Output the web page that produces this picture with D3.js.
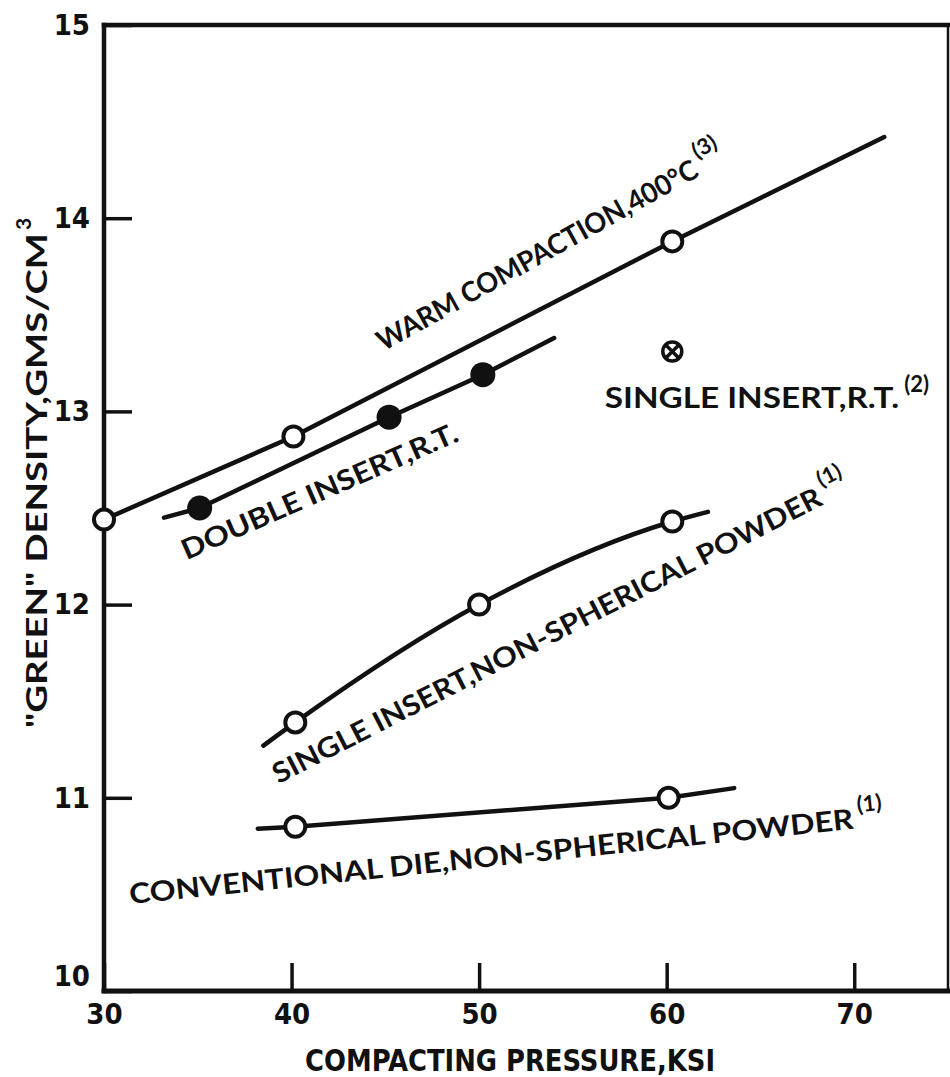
<!DOCTYPE html>
<html>
<head>
<meta charset="utf-8">
<script src="https://cdn.jsdelivr.net/npm/d3@7"></script>
<style>
  body { margin: 0; background: #fff; }
  .tick text { font-family: "DejaVu Sans Condensed", "DejaVu Sans", sans-serif; font-weight: bold; font-stretch: condensed; }
</style>
</head>
<body>
<svg id="chart" width="950" height="1077"></svg>
<script>
// ---- data ----
const pressureTicks = [30, 40, 50, 60, 70];
const densityTicks = [10, 11, 12, 13, 14, 15];

// warm compaction, 400 C (open circles)
const warmPressure = [30, 40.1, 60.3];
const warmDensity = [12.44, 12.87, 13.88];
const warmLineEnd = [71.6, 14.42];

// double insert, room temp (filled circles)
const doublePressure = [35.1, 45.2, 50.2];
const doubleDensity = [12.5, 12.97, 13.19];
const doubleLineStart = [33.2, 12.45];
const doubleLineEnd = [54, 13.38];

// single insert, room temp (one crossed circle)
const singleRTPressure = [60.3];
const singleRTDensity = [13.31];

// single insert, non-spherical powder
const singleNSPressure = [40.2, 50, 60.3];
const singleNSDensity = [11.39, 12.0, 12.43];
const singleNSLineStart = [38.5, 11.27];
const singleNSLineEnd = [62.2, 12.48];

// conventional die, non-spherical powder
const convPressure = [40.2, 60.1];
const convDensity = [10.85, 11.0];
const convLineStart = [38.2, 10.84];
const convLineEnd = [63.6, 11.05];

const svg = d3.select("#chart");
const x = d3.scaleLinear().domain([30, 75]).range([104, 948]);
const y = d3.scaleLinear().domain([10, 15]).range([991, 25]);
const ink = "#111";

function zipPts(ps, ds) {
  return ps.map((p, i) => [p, ds[i]]);
}

// ---- axes ----
const xAxis = d3.axisBottom(x)
  .tickValues(pressureTicks)
  .tickFormat(d3.format("d"))
  .tickSizeInner(-28)
  .tickSizeOuter(0)
  .tickPadding(12);

const xg = svg.append("g")
  .attr("transform", `translate(0,${y(10)})`)
  .call(xAxis);
xg.select(".domain").remove();
xg.selectAll(".tick line").attr("stroke", ink).attr("stroke-width", 3.5);
xg.selectAll(".tick text").attr("fill", ink).attr("font-size", 29);

const yAxis = d3.axisLeft(y)
  .tickValues(densityTicks)
  .tickFormat(d3.format("d"))
  .tickSizeInner(-28)
  .tickSizeOuter(0)
  .tickPadding(14);

const yg = svg.append("g")
  .attr("transform", `translate(${x(30)},0)`)
  .call(yAxis);
yg.select(".domain").remove();
yg.selectAll(".tick line").attr("stroke", ink).attr("stroke-width", 3.5);
yg.selectAll(".tick text")
  .attr("fill", ink)
  .attr("font-size", 29)
  .attr("dy", (d) => (d === 10 ? "-0.18em" : "0.32em"));

// frame
const [x0, x1] = x.range();
const [y0, y1] = y.range();
const frame = svg.append("g").attr("stroke", ink).attr("stroke-linecap", "square");
frame.append("line").attr("x1", x0).attr("x2", x1).attr("y1", y1).attr("y2", y1).attr("stroke-width", 4.5);
frame.append("line").attr("x1", x0).attr("x2", x0).attr("y1", y1).attr("y2", y0).attr("stroke-width", 4.5);
frame.append("line").attr("x1", x0).attr("x2", x1).attr("y1", y0).attr("y2", y0).attr("stroke-width", 5);
frame.append("line").attr("x1", x1).attr("x2", x1).attr("y1", y1).attr("y2", y0).attr("stroke-width", 2.5);

// axis titles
svg.append("text")
  .attr("x", 510)
  .attr("y", 1071)
  .attr("text-anchor", "middle")
  .attr("font-family", '"DejaVu Sans Condensed", "DejaVu Sans", sans-serif')
  .attr("font-weight", "bold")
  .attr("font-size", 31)
  .attr("textLength", 410)
  .attr("lengthAdjust", "spacingAndGlyphs")
  .attr("fill", ink)
  .text("COMPACTING PRESSURE,KSI");

const labelFont = "Lato, 'Noto Sans', sans-serif";

const yTitle = svg.append("g").attr("transform", "translate(47,728) rotate(-90)");
yTitle.append("text")
  .attr("font-family", labelFont)
  .attr("font-weight", "bold")
  .attr("font-size", 29)
  .attr("textLength", 495)
  .attr("lengthAdjust", "spacingAndGlyphs")
  .attr("fill", ink)
  .text("\"GREEN\" DENSITY,GMS/CM");
yTitle.append("text")
  .attr("x", 498)
  .attr("y", -16)
  .attr("font-family", labelFont)
  .attr("font-weight", "bold")
  .attr("font-size", 21)
  .attr("fill", ink)
  .text("3");

// ---- series ----
const series = [
  { pts: zipPts(warmPressure, warmDensity), line: [...zipPts(warmPressure, warmDensity), warmLineEnd], mark: "open", curve: d3.curveLinear },
  { pts: zipPts(doublePressure, doubleDensity), line: [doubleLineStart, ...zipPts(doublePressure, doubleDensity), doubleLineEnd], mark: "filled", curve: d3.curveLinear },
  { pts: zipPts(singleNSPressure, singleNSDensity), line: [singleNSLineStart, ...zipPts(singleNSPressure, singleNSDensity), singleNSLineEnd], mark: "open", curve: d3.curveMonotoneX },
  { pts: zipPts(convPressure, convDensity), line: [convLineStart, ...zipPts(convPressure, convDensity), convLineEnd], mark: "open", curve: d3.curveLinear },
  { pts: zipPts(singleRTPressure, singleRTDensity), line: null, mark: "crossed" },
];

svg.append("g")
  .selectAll("path")
  .data(series.filter((s) => s.line))
  .join("path")
  .attr("d", (s) =>
    d3.line()
      .x((d) => x(d[0]))
      .y((d) => y(d[1]))
      .curve(s.curve)(s.line)
  )
  .attr("fill", "none")
  .attr("stroke", ink)
  .attr("stroke-width", 4.5)
  .attr("stroke-linecap", "round")
  .attr("stroke-linejoin", "round");

series.forEach((s) => {
  const g = svg.append("g");
  const m = g.selectAll("g").data(s.pts).join("g")
    .attr("transform", (d) => `translate(${x(d[0])},${y(d[1])})`);
  if (s.mark === "open") {
    m.append("circle").attr("r", 10).attr("fill", "#fff").attr("stroke", ink).attr("stroke-width", 4);
  } else if (s.mark === "filled") {
    m.append("circle").attr("r", 12.5).attr("fill", ink);
  } else {
    m.append("circle").attr("r", 9.5).attr("fill", "#fff").attr("stroke", ink).attr("stroke-width", 3.5);
    m.append("path").attr("d", "M-6.5,-6.5L6.5,6.5M-6.5,6.5L6.5,-6.5").attr("stroke", ink).attr("stroke-width", 3.5);
  }
});

// ---- curve labels (anchored in data units) ----
const annotations = [
  { text: "WARM COMPACTION,400\u00B0C", sup: "(3)", from: [44.9, 13.31], to: [61.8, 14.22] },
  { text: "DOUBLE INSERT,R.T.", sup: "", from: [34.4, 12.23], to: [49.0, 12.85] },
  { text: "SINGLE INSERT,R.T.", sup: "(2)", from: [56.7, 13.02], to: [72.4, 13.02] },
  { text: "SINGLE INSERT,NON-SPHERICAL POWDER", sup: "(1)", from: [39.3, 11.07], to: [68.4, 12.52] },
  { text: "CONVENTIONAL DIE,NON-SPHERICAL POWDER", sup: "(1)", from: [31.4, 10.45], to: [70.0, 10.84] },
];

annotations.forEach((a) => {
  const ax = x(a.from[0]), ay = y(a.from[1]);
  const bx = x(a.to[0]), by = y(a.to[1]);
  const len = Math.hypot(bx - ax, by - ay);
  const ang = (Math.atan2(by - ay, bx - ax) * 180) / Math.PI;
  const g = svg.append("g").attr("transform", `translate(${ax},${ay}) rotate(${ang})`);
  g.append("text")
    .attr("font-family", labelFont)
    .attr("font-weight", "bold")
    .attr("font-size", 28)
    .attr("textLength", len)
    .attr("lengthAdjust", "spacingAndGlyphs")
    .attr("fill", ink)
    .text(a.text);
  if (a.sup) {
    g.append("text")
      .attr("x", len + 5)
      .attr("y", -16)
      .attr("font-family", labelFont)
      .attr("font-weight", "bold")
      .attr("font-size", 22)
      .attr("fill", ink)
      .text(a.sup);
  }
});
</script>
</body>
</html>
